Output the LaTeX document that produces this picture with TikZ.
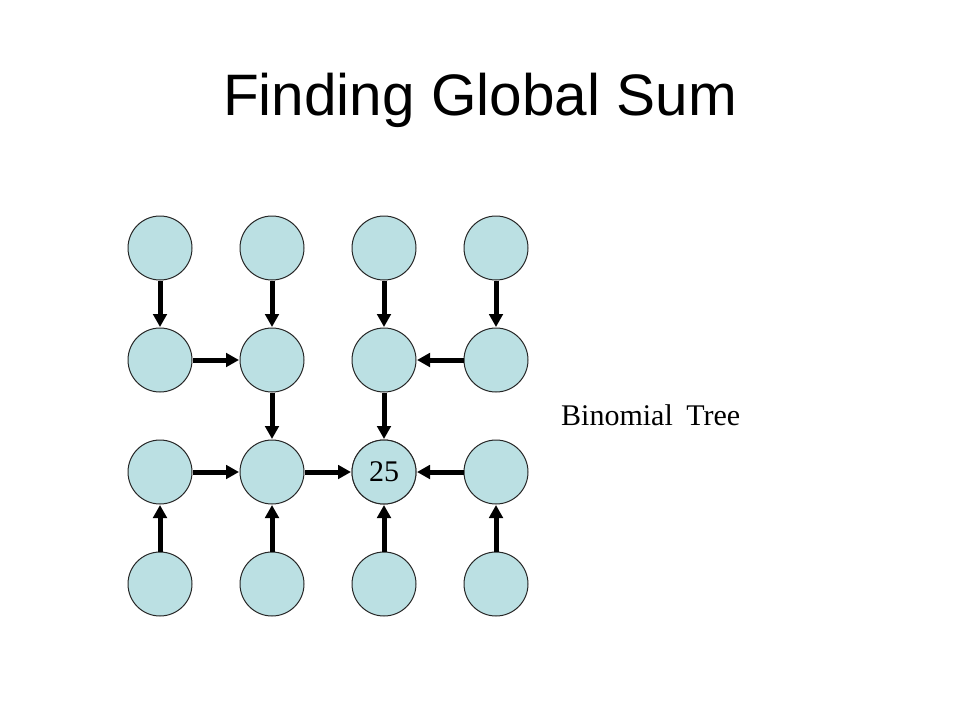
\documentclass[tikz,border=0pt]{standalone}
\usepackage{fontspec}
\setmainfont{Liberation Serif}
\newfontfamily\titlefont{Liberation Sans}
\usetikzlibrary{arrows.meta}
\definecolor{nodefill}{HTML}{BBE0E3}
\tikzset{
  proc/.style={circle, draw=black!85, line width=1pt, fill=nodefill, minimum size=64pt, inner sep=0pt, font=\fontsize{30}{32}\selectfont},
  sendarrow/.style={line width=5pt, -{Triangle[length=13pt,width=13.5pt]}, shorten >=0.5pt}
}
\begin{document}
\begin{tikzpicture}[x=1pt,y=-1pt]
\useasboundingbox (0,0) rectangle (960,720);
\node[anchor=base, font=\titlefont\fontsize{58.5}{64}\selectfont] (title) at (480,115) {Finding Global Sum};
\foreach \c/\x in {1/160,2/272,3/384,4/496}{
  \foreach \r/\y in {1/248,2/360,3/472,4/584}{
    \node[proc] (n\c\r) at (\x,\y) {};
  }
}
\node[proc] at (n33) {25};
\node[anchor=base west, inner sep=0pt, font=\fontsize{30}{32}\selectfont] (lbl) at (561,425) {Binomial\hspace{6pt} Tree};
\foreach \c in {1,2,3,4}{
  \draw[sendarrow] (n\c1) -- (n\c2);
  \draw[sendarrow] (n\c4) -- (n\c3);
}
\draw[sendarrow] (n12) -- (n22);
\draw[sendarrow] (n42) -- (n32);
\draw[sendarrow] (n22) -- (n23);
\draw[sendarrow] (n32) -- (n33);
\draw[sendarrow] (n13) -- (n23);
\draw[sendarrow] (n23) -- (n33);
\draw[sendarrow] (n43) -- (n33);
\end{tikzpicture}
\end{document}
